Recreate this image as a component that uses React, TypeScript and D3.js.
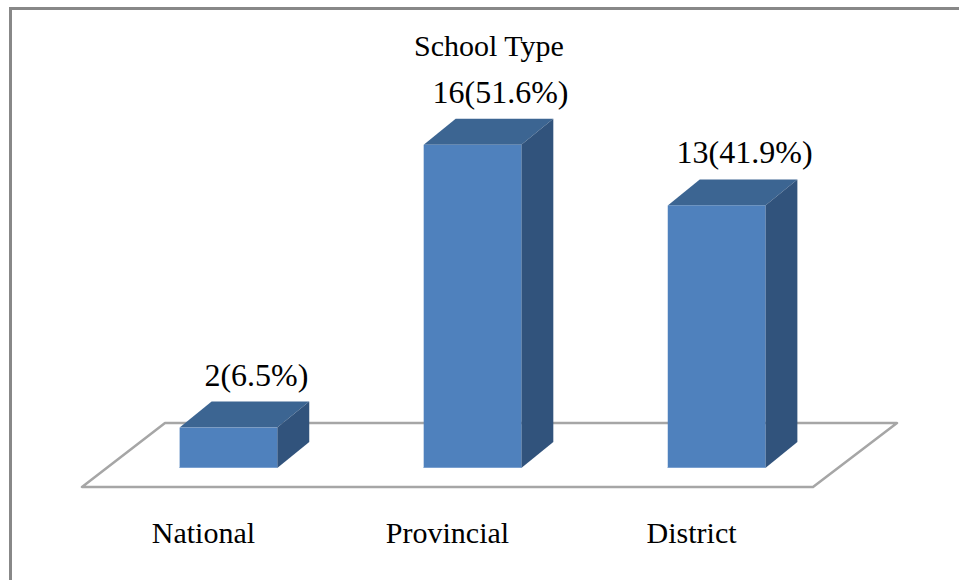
import React from 'react';
import * as d3 from 'd3';

const categories = ['National', 'Provincial', 'District'];
const counts = [2, 16, 13];
const percents = ['6.5%', '51.6%', '41.9%'];
const title = 'School Type';

const W = 959;
const H = 580;

// floor of the 3D plot
const floorFront = 487;
const floorBack = 423;
const floorLeft = 82;
const floorRight = 813;
const floorDx = 83;

// bars
const base = 468;
const depthX = 32;
const depthY = 26;

const FRONT = '#4f81bd';
const TOP = '#3c6592';
const SIDE = '#31537c';

const pts = (p: number[][]) => p.map(d => d.join(',')).join(' ');

export default function App() {
  const x = d3.scaleBand<string>()
    .domain(categories)
    .range([82, 863])
    .paddingInner(0.6)
    .paddingOuter(0.4);

  const y = d3.scaleLinear()
    .domain([0, 18])
    .range([base, base - 18 * 20.2]);

  const bw = x.bandwidth();
  const serif = { fontFamily: "'Liberation Serif', 'Times New Roman', serif" };

  return (
    <svg width={W} height={H} style={{ position: 'absolute', left: 0, top: 0, background: '#fff' }}>
      {/* outer frame */}
      <rect x={10.5} y={8.5} width={W + 20} height={H + 20} fill="none" stroke="#888" strokeWidth={3} />

      {/* floor */}
      <polygon
        points={pts([
          [floorLeft, floorFront],
          [floorRight, floorFront],
          [floorRight + floorDx + 1, floorBack],
          [floorLeft + floorDx, floorBack],
        ])}
        fill="#fff"
        stroke="#a6a6a6"
        strokeWidth={2.5}
        strokeLinejoin="round"
      />

      <text x={489} y={56} textAnchor="middle" fontSize={30} style={serif}>{title}</text>

      {categories.map((c, i) => {
        const x0 = x(c)!;
        const x1 = x0 + bw;
        const top = y(counts[i]);
        return (
          <g key={c}>
            <polygon
              points={pts([[x0, top], [x0 + depthX, top - depthY], [x1 + depthX, top - depthY], [x1, top]])}
              fill={TOP}
            />
            <polygon
              points={pts([[x1, top], [x1 + depthX, top - depthY], [x1 + depthX, base - depthY], [x1, base]])}
              fill={SIDE}
            />
            <rect x={x0} y={top} width={bw} height={base - top} fill={FRONT} />
            <line x1={x0} x2={x1} y1={base - 0.5} y2={base - 0.5} stroke="#7aa0d0" strokeWidth={1} />
            <text x={x0 + bw / 2 + 28} y={top - 42} textAnchor="middle" fontSize={32} style={serif}>
              {`${counts[i]}(${percents[i]})`}
            </text>
            <text x={x0 + bw / 2 - 25} y={543} textAnchor="middle" fontSize={30} style={serif}>
              {c}
            </text>
          </g>
        );
      })}
    </svg>
  );
}
